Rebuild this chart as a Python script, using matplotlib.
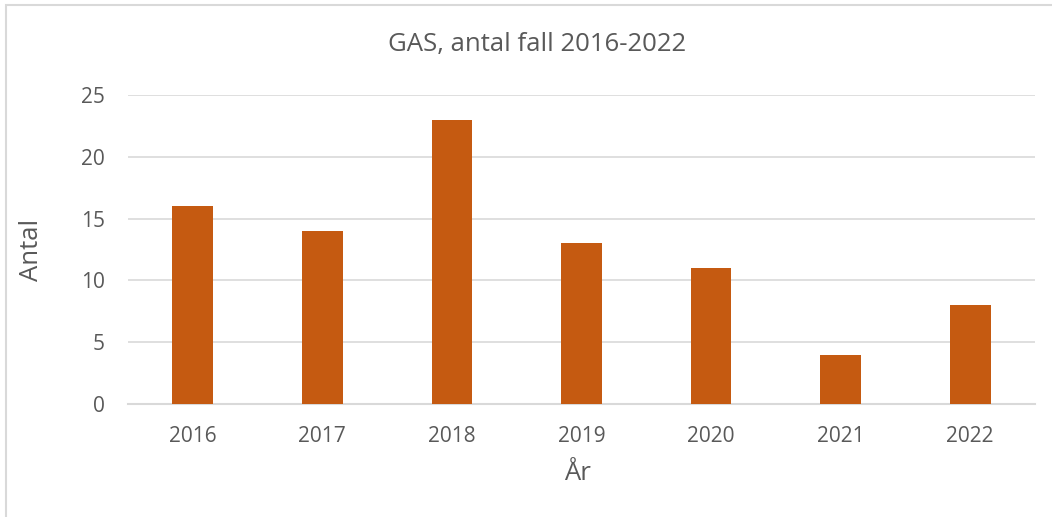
import matplotlib
matplotlib.use('Agg')
from matplotlib import pyplot as plt
from matplotlib.patches import Rectangle

years = ['2016', '2017', '2018', '2019', '2020', '2021', '2022']
cases = [16, 14, 23, 13, 11, 4, 8]

plt.rcParams['font.family'] = ['Open Sans', 'DejaVu Sans']
text_color = '#595959'
grid_color = '#D9D9D9'

fig = plt.figure(figsize=(10.52, 5.17), dpi=100)
fig.patches.append(Rectangle((6 / 1052, -0.1), 1.2, 1 - 5 / 517 + 0.1,
                             transform=fig.transFigure, fill=False,
                             edgecolor=grid_color, linewidth=1.5))

ax = fig.add_axes([128 / 1052, 1 - 404 / 517, (1035 - 128) / 1052, (404 - 95) / 517])
ax.bar(range(len(years)), cases, width=0.315, color='#C55A11', zorder=3)

ax.set_xlim(-0.5, len(years) - 0.5)
ax.set_ylim(0, 25)
ax.set_yticks(range(0, 26, 5))
ax.set_xticks(range(len(years)))
ax.set_xticklabels(years)
ax.grid(axis='y', color=grid_color, linewidth=1.2, zorder=0)
for s in ['top', 'right', 'left']:
    ax.spines[s].set_visible(False)
ax.spines['bottom'].set_color(grid_color)
ax.spines['bottom'].set_linewidth(1.5)
ax.tick_params(length=0, labelsize=15, colors=text_color)
ax.tick_params(axis='x', pad=16)
ax.tick_params(axis='y', pad=16.5)

fig.text(537 / 1052, 1 - 45 / 517, 'GAS, antal fall 2016-2022', ha='center', va='center',
         fontsize=18.5, color=text_color)
fig.text(31 / 1052, 1 - 250 / 517, 'Antal', ha='center', va='center', rotation=90,
         fontsize=18.5, color=text_color)
fig.text(577 / 1052, 1 - 474 / 517, 'År', ha='center', va='center',
         fontsize=18.5, color=text_color)

plt.savefig('out.png', dpi=100)
